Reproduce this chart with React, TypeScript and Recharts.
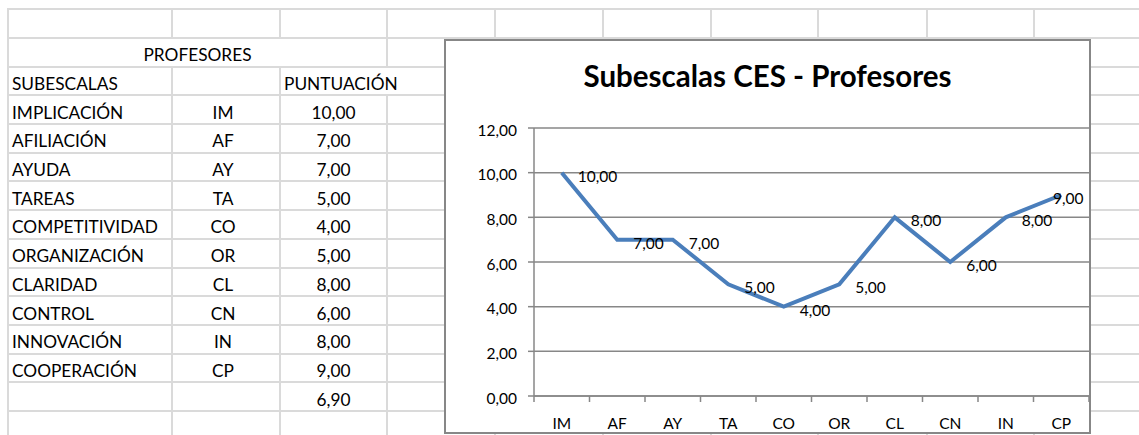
import React from 'react';
import { LineChart, Line, XAxis, YAxis, CartesianGrid, LabelList } from 'recharts';

// sheet data
const subscales = [
  'IMPLICACIÓN',
  'AFILIACIÓN',
  'AYUDA',
  'TAREAS',
  'COMPETITIVIDAD',
  'ORGANIZACIÓN',
  'CLARIDAD',
  'CONTROL',
  'INNOVACIÓN',
  'COOPERACIÓN',
];
const codes = ['IM', 'AF', 'AY', 'TA', 'CO', 'OR', 'CL', 'CN', 'IN', 'CP'];
const scores = [10, 7, 7, 5, 4, 5, 8, 6, 8, 9];
const averageScore = 6.9;
const yTicks = [0, 2, 4, 6, 8, 10, 12];

// sheet grid layout
const ROW_TOP = 9.3;
const ROW_H = 28.69;
const ROWS = 15;
const COL_X = [8, 172, 280, 387, 495, 603, 711, 818, 927, 1034, 1142];
const PAGE_W = 1139;
const PAGE_H = 435;
const GRID_COLOR = '#dadada';
const FONT = 'Lato, "Open Sans", sans-serif';

const CHART_LEFT = 444;
const CHART_TOP = 39;
const CHART_W = 647;
const CHART_H = 395;
const Y_AXIS_W = 90;
const MARGIN = { top: 89, right: 2, left: 0, bottom: 0 };
const X_TICK_MARGIN = 22;
const AXIS_GRAY = '#878787';

const fmt = (v: number) => v.toFixed(2).replace('.', ',');

const chartData = codes.map((code, i) => ({ code, score: scores[i] }));

function Cell({
  row,
  from,
  to,
  align,
  children,
  shift = 0,
}: {
  row: number;
  from: number;
  to: number;
  align: 'left' | 'center';
  children: React.ReactNode;
  shift?: number;
}) {
  return (
    <div
      style={{
        position: 'absolute',
        left: COL_X[from] + (align === 'left' ? 4 : 0) + shift,
        top: ROW_TOP + row * ROW_H + 2.5,
        width: align === 'left' ? undefined : COL_X[to] - COL_X[from],
        height: ROW_H,
        display: 'flex',
        alignItems: 'center',
        justifyContent: align === 'left' ? 'flex-start' : 'center',
        whiteSpace: 'nowrap',
        fontFamily: FONT,
        fontSize: 17.3,
        color: '#000',
      }}
    >
      {children}
    </div>
  );
}

function SheetGrid() {
  const lines: React.ReactNode[] = [];
  for (let k = 0; k <= ROWS; k++) {
    lines.push(
      <div
        key={'h' + k}
        style={{
          position: 'absolute',
          left: COL_X[0] - 1,
          top: ROW_TOP + k * ROW_H - 1,
          width: PAGE_W - COL_X[0] + 1,
          height: 2,
          background: GRID_COLOR,
        }}
      />
    );
  }
  COL_X.forEach((x, c) => {
    for (let r = 0; r < ROWS; r++) {
      // merged title cell and overflowing header text hide these borders
      if (r === 1 && (c === 1 || c === 2)) continue;
      if (r === 2 && c === 3) continue;
      lines.push(
        <div
          key={'v' + c + '-' + r}
          style={{
            position: 'absolute',
            left: x - 1,
            top: ROW_TOP + r * ROW_H,
            width: 2,
            height: ROW_H,
            background: GRID_COLOR,
          }}
        />
      );
    }
  });
  return <>{lines}</>;
}

// category label plus the tick marks between categories (excel style)
function CategoryTick(props: any) {
  const { x, y, payload, index } = props;
  const step = (CHART_W - MARGIN.left - MARGIN.right - Y_AXIS_W) / codes.length;
  const axisY = y - X_TICK_MARGIN;
  const left = x - step / 2;
  const right = x + step / 2;
  return (
    <g>
      <line x1={left} x2={left} y1={axisY} y2={axisY + 6} stroke={AXIS_GRAY} strokeWidth={1.5} />
      {index === codes.length - 1 && (
        <line x1={right} x2={right} y1={axisY} y2={axisY + 6} stroke={AXIS_GRAY} strokeWidth={1.5} />
      )}
      <text
        x={x}
        y={y}
        dy="0.71em"
        textAnchor="middle"
        fontFamily={FONT}
        fontSize={15.5}
        fill="#000"
      >
        {payload.value}
      </text>
    </g>
  );
}

function PointLabel(props: any) {
  const { x, y, value } = props;
  const labelLimit = CHART_W - 38;
  return (
    <text
      x={Math.min(x + 16, labelLimit)}
      y={y + 3}
      dominantBaseline="central"
      fontFamily={FONT}
      fontSize={15.5}
      fill="#000"
    >
      {fmt(value)}
    </text>
  );
}

function CesChart() {
  return (
    <div
      style={{
        position: 'absolute',
        left: CHART_LEFT,
        top: CHART_TOP,
        width: CHART_W,
        height: CHART_H,
        background: '#fff',
      }}
    >
      <div
        style={{
          position: 'absolute',
          left: 0,
          top: 22,
          width: '100%',
          textAlign: 'center',
          fontFamily: FONT,
          fontWeight: 700,
          fontSize: 29.5,
          lineHeight: '29.5px',
          color: '#000',
        }}
      >
        Subescalas CES - Profesores
      </div>
      <LineChart width={CHART_W} height={CHART_H} data={chartData} margin={MARGIN}>
        <CartesianGrid vertical={false} stroke={AXIS_GRAY} strokeWidth={1.5} />
        <XAxis
          dataKey="code"
          scale="band"
          height={38}
          axisLine={{ stroke: AXIS_GRAY, strokeWidth: 1.5 }}
          tickLine={false}
          tickSize={0}
          tickMargin={X_TICK_MARGIN}
          interval={0}
          tick={<CategoryTick />}
        />
        <YAxis
          width={Y_AXIS_W}
          domain={[0, 12]}
          ticks={yTicks}
          tickFormatter={fmt}
          tickSize={6}
          tickMargin={11}
          axisLine={{ stroke: AXIS_GRAY, strokeWidth: 1.5 }}
          tickLine={{ stroke: AXIS_GRAY, strokeWidth: 1.5 }}
          tick={{ fill: '#000', fontSize: 15.5, fontFamily: FONT, dy: 2 }}
        />
        <Line
          type="linear"
          dataKey="score"
          stroke="#4a7ebb"
          strokeWidth={4}
          dot={false}
          isAnimationActive={false}
        >
          <LabelList dataKey="score" content={<PointLabel />} />
        </Line>
      </LineChart>
      <div
        style={{
          position: 'absolute',
          left: 0,
          top: 0,
          width: CHART_W,
          height: CHART_H,
          boxSizing: 'border-box',
          border: `2px solid ${AXIS_GRAY}`,
          pointerEvents: 'none',
        }}
      />
    </div>
  );
}

export default function App() {
  return (
    <div
      style={{
        position: 'absolute',
        left: 0,
        top: 0,
        width: PAGE_W,
        height: PAGE_H,
        overflow: 'hidden',
        background: '#fff',
      }}
    >
      <SheetGrid />
      <Cell row={1} from={0} to={3} align="center">
        PROFESORES
      </Cell>
      <Cell row={2} from={0} to={1} align="left">
        SUBESCALAS
      </Cell>
      <Cell row={2} from={2} to={3} align="left">
        PUNTUACIÓN
      </Cell>
      {subscales.map((name, i) => (
        <React.Fragment key={name}>
          <Cell row={3 + i} from={0} to={1} align="left">
            {name}
          </Cell>
          <Cell row={3 + i} from={1} to={2} align="center" shift={-3}>
            {codes[i]}
          </Cell>
          <Cell row={3 + i} from={2} to={3} align="center">
            {fmt(scores[i])}
          </Cell>
        </React.Fragment>
      ))}
      <Cell row={3 + subscales.length} from={2} to={3} align="center">
        {fmt(averageScore)}
      </Cell>
      <CesChart />
    </div>
  );
}
